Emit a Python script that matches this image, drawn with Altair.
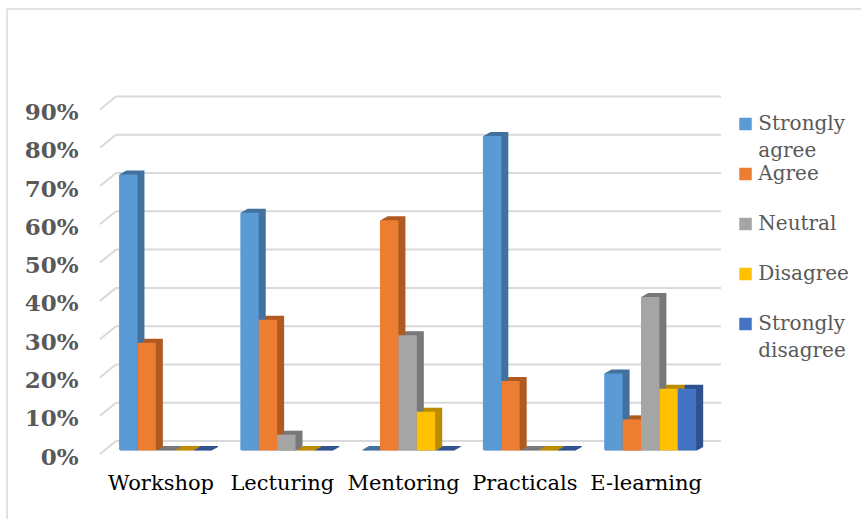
import altair as alt
import pandas as pd

# ---- data -------------------------------------------------------------
categories = ["Workshop", "Lecturing", "Mentoring", "Practicals", "E-learning"]
series = ["Strongly agree", "Agree", "Neutral", "Disagree", "Strongly disagree"]

strongly_agree = [0.72, 0.62, 0.00, 0.82, 0.20]
agree = [0.28, 0.34, 0.60, 0.18, 0.08]
neutral = [0.00, 0.04, 0.30, 0.00, 0.40]
disagree = [0.00, 0.00, 0.10, 0.00, 0.16]
strongly_disagree = [0.00, 0.00, 0.00, 0.00, 0.16]

y_ticks = [0.0, 0.1, 0.2, 0.3, 0.4, 0.5, 0.6, 0.7, 0.8, 0.9]
legend_text = ["Strongly\nagree", "Agree", "Neutral", "Disagree", "Strongly\ndisagree"]

# ---- styling ----------------------------------------------------------
face_colors = ["#5B9BD5", "#ED7D31", "#A5A5A5", "#FFC000", "#4472C4"]
shade_colors = ["#41719C", "#AE5A21", "#787878", "#BC8C00", "#2F528F"]
SERIF = "DejaVu Serif"
GRID = "#d9d9d9"
TEXT_GREY = "#595959"

W, H = 606, 344.5          # front plane of the plot
DEPTH_STEPS = 7            # bar depth: 7 px right, 4 px up
STEP_Y = 4 / DEPTH_STEPS
WALL_DX, WALL_DY = 16, -9  # back wall offset

values_by_series = [strongly_agree, agree, neutral, disagree, strongly_disagree]
df = pd.DataFrame(
    [
        {"category": c, "series": s, "value": v}
        for s, vals in zip(series, values_by_series)
        for c, v in zip(categories, vals)
    ]
)
grid_df = pd.DataFrame({"tick": y_ticks})
legend_df = pd.DataFrame({"series": series, "label": legend_text})

x_scale = alt.Scale(paddingInner=0.2415, paddingOuter=0.119, align=0.66, round=False)
y_scale = alt.Scale(domain=[0, 0.9], nice=False, zero=True)
color_scale = alt.Scale(domain=series, range=face_colors)
shade_scale = alt.Scale(domain=series, range=shade_colors)

x_axis = alt.Axis(
    title=None,
    labelAngle=0,
    domain=False,
    ticks=False,
    tickSize=0,
    grid=False,
    labelPadding=22.7,
    labelOffset=-4,
    labelFont=SERIF,
    labelFontSize=21,
    labelColor="#000000",
)
y_axis = alt.Axis(
    title=None,
    values=y_ticks,
    format=".0%",
    domain=False,
    ticks=False,
    tickSize=0,
    grid=False,
    labelFlush=False,
    labelOverlap=False,
    labelPadding=22,
    labelOffset=7,
    labelFont=SERIF,
    labelFontSize=23,
    labelFontWeight="bold",
    labelColor=TEXT_GREY,
)

x_enc = alt.X("category:N", sort=categories, scale=x_scale, axis=x_axis)
y_enc = alt.Y("value:Q", scale=y_scale, axis=y_axis)

# ---- back wall: gridlines and the slanted floor/wall joins --------------
wall = alt.Chart(grid_df).mark_rule(color=GRID, strokeWidth=2, yOffset=WALL_DY).encode(
    y=alt.Y("tick:Q", scale=y_scale, axis=y_axis),
    x=alt.value(WALL_DX),
    x2=alt.value(W + WALL_DX - 1),
)
joins = alt.Chart(grid_df).mark_rule(
    color=GRID, strokeWidth=2, yOffset=4, y2Offset=WALL_DY
).encode(
    y=alt.Y("tick:Q", scale=y_scale, axis=y_axis),
    y2=alt.Y2("tick"),
    x=alt.value(0),
    x2=alt.value(WALL_DX),
)

# ---- bar depth: shaded copies stepped back diagonally ------------------
shade_layers = []
for k in range(1, DEPTH_STEPS + 1):
    shade_layers.append(
        alt.Chart(df)
        .mark_bar(yOffset=-k * STEP_Y, y2Offset=-(k - 1) * STEP_Y + 0.6)
        .encode(
            x=x_enc,
            xOffset=alt.XOffset(
                "series:N",
                sort=series,
                scale=alt.Scale(
                    domain=series,
                    paddingInner=0,
                    paddingOuter=0,
                    range=[alt.ExprRef(expr=f"{k}"), alt.ExprRef(expr=f"bandwidth('x') + {k}")],
                ),
            ),
            y=y_enc,
            y2=alt.Y2(datum=0),
            fill=alt.Fill("series:N", scale=shade_scale, legend=None),
        )
    )

# ---- bar fronts -------------------------------------------------------
fronts = alt.Chart(df).mark_bar().encode(
    x=x_enc,
    xOffset=alt.XOffset(
        "series:N", sort=series, scale=alt.Scale(domain=series, paddingInner=0, paddingOuter=0)
    ),
    y=y_enc,
    y2=alt.Y2(datum=0),
    color=alt.Color("series:N", scale=color_scale, legend=None),
)

plot = alt.layer(wall, joins, *shade_layers, fronts).resolve_scale(xOffset="independent")

# ---- legend -----------------------------------------------------------
leg_y = alt.Y(
    "series:N",
    scale=alt.Scale(type="point", domain=series, range=[18.5, 218.5], padding=0),
    axis=None,
)
leg_squares = alt.Chart(legend_df).mark_square(size=156, opacity=1).encode(
    x=alt.value(645.5),
    y=leg_y,
    color=alt.Color("series:N", scale=color_scale, legend=None),
)
leg_labels = alt.Chart(legend_df).mark_text(
    align="left",
    baseline="middle",
    font=SERIF,
    fontSize=20,
    color=TEXT_GREY,
    lineBreak="\n",
    lineHeight=27,
).encode(x=alt.value(658.3), y=leg_y, text="label:N")
legend = alt.layer(leg_squares, leg_labels)

# ---- outer frame ------------------------------------------------------
frame_src = alt.Data(values=[{}])
frame_left = alt.Chart(frame_src).mark_rule(color=GRID, strokeWidth=1.5).encode(
    x=alt.value(-93), y=alt.value(-96.5), y2=alt.value(420)
)
frame_top = alt.Chart(frame_src).mark_rule(color=GRID, strokeWidth=1.5).encode(
    x=alt.value(-93), x2=alt.value(770), y=alt.value(-96.5)
)

chart = (
    alt.layer(frame_left, frame_top, plot, legend)
    .resolve_scale(y="independent")
    .properties(
        width=W,
        height=H,
        autosize=alt.AutoSizeParams(type="none"),
        padding={"left": 100, "top": 105.5, "right": 155, "bottom": 69},
        background="white",
    )
    .configure_view(stroke=None)
)

chart.save("out.html", embed_options={"renderer": "svg", "actions": False})
